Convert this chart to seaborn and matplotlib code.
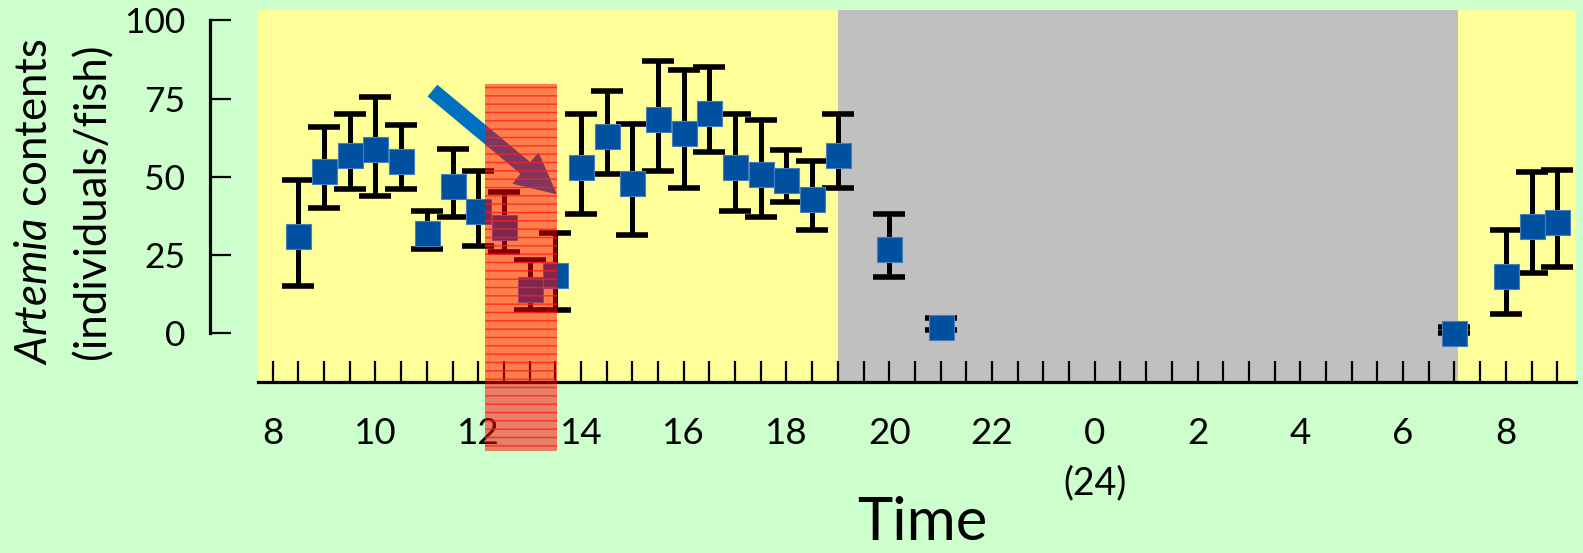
import matplotlib
matplotlib.use("Agg")
import matplotlib.pyplot as plt
import matplotlib.transforms as mtransforms
from matplotlib.patches import Rectangle, FancyArrowPatch
from matplotlib.ticker import FixedLocator, MultipleLocator
import pandas as pd
import seaborn as sns

# Sampling times (hours from midnight of day 1; 24 = midnight, 32 = 8:00 next day)
hours = [8.5, 9, 9.5, 10, 10.5, 11, 11.5, 12, 12.5, 13, 13.5, 14, 14.5, 15,
         15.5, 16, 16.5, 17, 17.5, 18, 18.5, 19, 20, 21, 31, 32, 32.5, 33]
# Mean Artemia count per fish
means = [31, 52, 57, 59, 55, 32, 47, 39, 34, 14, 18.5, 53, 63, 48,
         68.5, 64, 70.5, 53, 51, 49, 43, 57, 27, 2, 0, 18.3, 34.3, 35.4]
# Upper and lower ends of the error bars
upper = [49, 66, 70, 75.5, 66.5, 39, 59, 52, 45, 23.5, 32, 70, 77.5, 67,
         87, 84, 85, 70, 68, 58.5, 55, 70, 38, 4.7, 2, 33, 51.4, 52.2]
lower = [15, 40, 46, 44, 46, 27, 37, 28, 26, 7.5, 7.5, 38, 51, 31.5,
         52, 46.5, 58, 39, 37, 42, 33, 46.5, 18, 1, 0, 6, 19.3, 21]

y_ticks = [0, 25, 50, 75, 100]
x_ticks = [8, 10, 12, 14, 16, 18, 20, 22, 24, 26, 28, 30, 32]
x_tick_labels = ["8", "10", "12", "14", "16", "18", "20", "22", "0", "2", "4", "6", "8"]

night = (19.0, 31.07)          # dark period
window = (12.13, 13.54)        # highlighted feeding window
window_y = (-37.8, 79.6)
arrow_from = (11.12, 77.4)
arrow_to = (13.51, 44.7)

df = pd.DataFrame({"hour": hours, "mean": means, "upper": upper, "lower": lower})

sns.set_style("ticks")
plt.rcParams.update({
    "font.family": ["Lato", "DejaVu Sans"],
    "mathtext.fontset": "custom",
    "mathtext.rm": "Lato",
    "mathtext.it": "Lato:italic",
    "hatch.linewidth": 1.0,
})

W, H = 1583, 553
fig = plt.figure(figsize=(W / 100, H / 100), dpi=100, facecolor="#CCFFCC")
ax = fig.add_axes([258.3 / W, 1 - 382 / H, (1575.7 - 258.3) / W, (382 - 10) / H])
ax.set_facecolor("#FFFF99")
ax.set_xlim(7.72, 33.36)
ax.set_ylim(-15.6, 103.3)

ax.axvspan(*night, color="#C0C0C0", lw=0, zorder=0)

ax.errorbar(df["hour"], df["mean"],
            yerr=[df["mean"] - df["lower"], df["upper"] - df["mean"]],
            fmt="none", ecolor="black", elinewidth=3.6, capsize=11.4,
            capthick=4.0, zorder=3)
sns.scatterplot(data=df, x="hour", y="mean", marker="s", s=18 ** 2,
                color="#0050A0", edgecolor="#4A7EBB", linewidth=0.8,
                zorder=4, ax=ax, legend=False)

arrow = FancyArrowPatch(arrow_from, arrow_to,
                        arrowstyle="simple,head_length=2.8,head_width=2.8,tail_width=1.0",
                        mutation_scale=10, color="#0070C0", shrinkA=0, shrinkB=0,
                        zorder=6)
ax.add_patch(arrow)

rect = Rectangle((window[0], window_y[0]), window[1] - window[0], window_y[1] - window_y[0],
                 facecolor=(1, 0, 0, 0.5), edgecolor=(1, 0.12, 0.12, 0.85),
                 linewidth=0, hatch="--", zorder=10, clip_on=False)
ax.add_patch(rect)

# axes styling
for side in ("top", "right"):
    ax.spines[side].set_visible(False)
ax.spines["left"].set_position(("outward", 34.6))
ax.spines["left"].set_bounds(0, 100)
ax.spines["left"].set_linewidth(2.3)
ax.spines["bottom"].set_linewidth(2.3)
ax.spines["left"].set_color("black")
ax.spines["bottom"].set_color("black")

ax.yaxis.set_major_locator(FixedLocator(y_ticks))
ax.tick_params(axis="y", direction="in", length=15, width=1.6, pad=18,
               labelsize=25.5, colors="black")
ax.xaxis.set_major_locator(FixedLocator(x_ticks))
ax.set_xticklabels(x_tick_labels)
ax.xaxis.set_minor_locator(MultipleLocator(0.5))
ax.tick_params(axis="x", which="both", direction="in", length=15, width=1.6,
               colors="black")
ax.tick_params(axis="x", which="major", pad=25, labelsize=26.5)
ax.set_xlabel("")
ax.set_ylabel("")

blend = mtransforms.blended_transform_factory(ax.transData, fig.transFigure)
ax.text(24, 1 - 494 / H, "(24)", transform=blend, ha="center", va="baseline",
        fontsize=27, color="black")

fig.text(922.5 / W, 1 - 540 / H, "Time", ha="center", va="baseline",
         fontsize=43, color="black")
fig.text(46.7 / W, 1 - 201.7 / H, r"$\mathit{Artemia}$ contents", rotation=90,
         rotation_mode="anchor", ha="center", va="baseline", fontsize=31.5,
         color="black")
fig.text(105.5 / W, 1 - 201.7 / H, "(individuals/fish)", rotation=90,
         rotation_mode="anchor", ha="center", va="baseline", fontsize=31.5,
         color="black")

fig.savefig("out.png", dpi=100, facecolor=fig.get_facecolor())
